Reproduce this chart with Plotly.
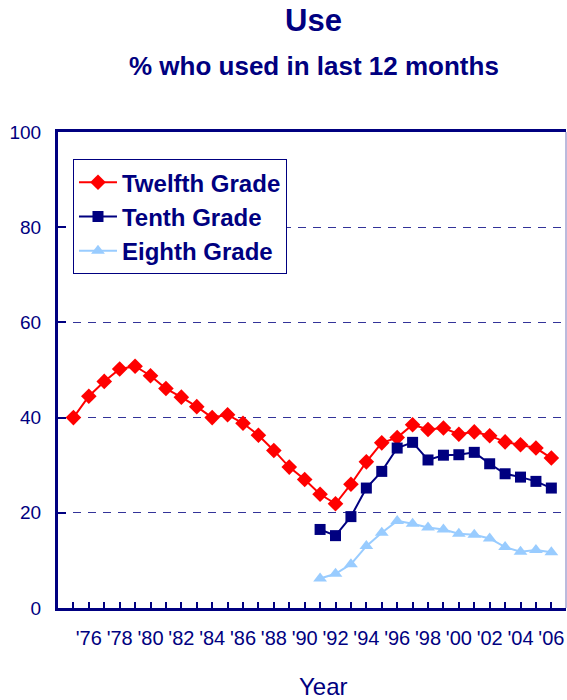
import plotly.graph_objects as go

years = list(range(1975, 2007))
twelfth = [40.0, 44.5, 47.6, 50.2, 50.8, 48.8, 46.1, 44.3, 42.3, 40.0, 40.6, 38.8,
           36.3, 33.1, 29.6, 27.0, 23.9, 21.9, 26.0, 30.7, 34.7, 35.8, 38.5, 37.5,
           37.8, 36.5, 37.0, 36.2, 34.9, 34.3, 33.6, 31.5]
years_10_8 = list(range(1991, 2007))
tenth = [16.5, 15.2, 19.2, 25.2, 28.7, 33.6, 34.8, 31.1, 32.1, 32.2, 32.7, 30.3,
         28.2, 27.5, 26.6, 25.2]
eighth = [6.2, 7.2, 9.2, 13.0, 15.8, 18.3, 17.7, 16.9, 16.5, 15.6, 15.4, 14.6,
          12.8, 11.8, 12.2, 11.7]
x_tick_text = ["'" + str(y)[2:] if y % 2 == 0 else "" for y in years]
y_ticks = [0, 20, 40, 60, 80, 100]

NAVY = "#000080"
FONT = "Arial, Liberation Sans, sans-serif"

fig = go.Figure()
fig.add_trace(go.Scatter(x=years, y=twelfth, name="Twelfth Grade", mode="lines+markers",
                         line=dict(color="#ff0000", width=2),
                         marker=dict(symbol="diamond", size=12, color="#ff0000"),
                         legendgroup="a"))
fig.add_trace(go.Scatter(x=years_10_8, y=tenth, name="Tenth Grade", mode="lines+markers",
                         line=dict(color=NAVY, width=2),
                         marker=dict(symbol="square", size=11, color=NAVY),
                         legendgroup="b"))
fig.add_trace(go.Scatter(x=years_10_8, y=eighth, name="Eighth Grade", mode="lines+markers",
                         line=dict(color="#99ccff", width=2),
                         marker=dict(symbol="triangle-up", size=12, color="#99ccff"),
                         legendgroup="c"))

fig.update_layout(
    width=567, height=700,
    margin=dict(l=58, r=1, t=132, b=92),
    paper_bgcolor="white", plot_bgcolor="white",
    font=dict(family=FONT, color=NAVY),
    showlegend=True,
    legend=dict(x=0.0295, y=0.943, xanchor="left", yanchor="top",
                bordercolor=NAVY, borderwidth=1, bgcolor="white",
                font=dict(size=24, family=FONT, color=NAVY, weight="bold"),
                tracegroupgap=3, traceorder="normal", itemwidth=38),
    xaxis=dict(range=[1974, 2006.95], tickmode="array", tickvals=years, ticktext=x_tick_text,
               ticks="inside", ticklen=6, tickwidth=2, tickcolor=NAVY,
               showline=True, linecolor=NAVY, linewidth=3, mirror=True,
               showgrid=False, zeroline=False,
               tickfont=dict(size=20, color=NAVY), ticklabelstandoff=10,
               title=None),
    yaxis=dict(range=[0, 100], tickmode="array", tickvals=y_ticks,
               ticks="inside", ticklen=8, tickwidth=2, tickcolor=NAVY,
               showline=True, linecolor=NAVY, linewidth=3,
               showgrid=True, gridcolor="#333399", gridwidth=1, griddash="8px,7px",
               zeroline=False, tickfont=dict(size=19, color=NAVY), ticklabelstandoff=10),
    shapes=[dict(type="line", xref="paper", yref="paper", x0=1, x1=1, y0=0, y1=1,
                 line=dict(color="#7777bb", width=1))],
    annotations=[
        dict(text="<b>Use</b>", xref="paper", yref="paper", x=0.503, y=1.235,
             showarrow=False, font=dict(size=31, color=NAVY), xanchor="center", yanchor="middle"),
        dict(text="<b>% who used in last 12 months</b>", xref="paper", yref="paper",
             x=0.503, y=1.139, showarrow=False, font=dict(size=26, color=NAVY),
             xanchor="center", yanchor="middle"),
        dict(text="Year", xref="paper", yref="paper", x=0.522, y=-0.164,
             showarrow=False, font=dict(size=24, color=NAVY), xanchor="center", yanchor="middle"),
    ],
)

fig.write_html("out.html", config={"displayModeBar": False},
               post_script="document.body.style.margin='0';document.body.style.overflow='hidden';")
